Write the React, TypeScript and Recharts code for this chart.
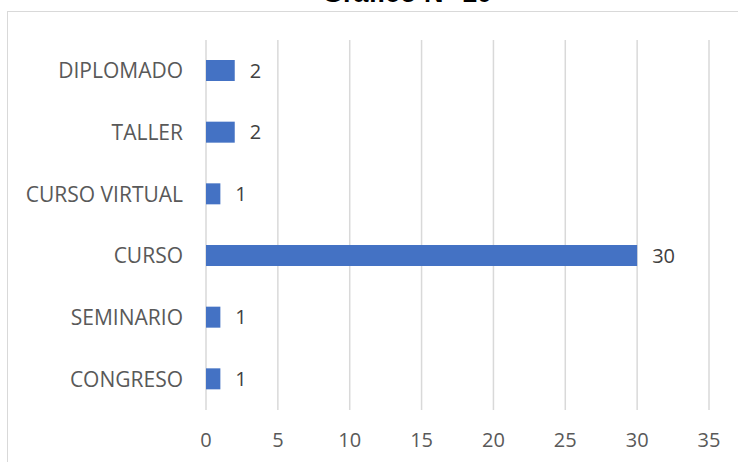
import React from 'react';
import { BarChart, Bar, XAxis, YAxis, CartesianGrid, LabelList } from 'recharts';

const categories = ['DIPLOMADO', 'TALLER', 'CURSO VIRTUAL', 'CURSO', 'SEMINARIO', 'CONGRESO'];
const values = [2, 2, 1, 30, 1, 1];
const xTicks = [0, 5, 10, 15, 20, 25, 30, 35];
const title = 'Gráfico N° 10';

const data = categories.map((c, i) => ({ name: c, value: values[i] }));

const FONT = '"Open Sans", sans-serif';

export default function App() {
  return (
    <div style={{ position: 'absolute', left: 0, top: 0, width: 738, height: 462, overflow: 'hidden', background: '#fff', fontFamily: FONT }}>
      <div style={{ position: 'absolute', left: 7, top: 11, width: 800, height: 600, border: '1px solid #d9d9d9', boxSizing: 'border-box' }} />
      <div style={{ position: 'absolute', left: 38, width: 738, top: -23, textAlign: 'center', fontSize: 27, fontWeight: 700, lineHeight: '32px', color: '#000', fontFamily: '"Liberation Sans", Arial, sans-serif' }}>{title}</div>
      <div style={{ position: 'absolute', left: 0, top: 0 }}>
        <BarChart width={738} height={462} data={data} layout="vertical" margin={{ top: 40, right: 29, bottom: 0, left: 6 }}>
          <CartesianGrid horizontal={false} stroke="#d9d9d9" strokeWidth={1.5} />
          <XAxis type="number" domain={[0, 35]} ticks={xTicks} axisLine={false} tickLine={false} tickSize={0} tickMargin={23} height={52} interval={0}
            tick={{ fill: '#595959', fontSize: 20, fontFamily: FONT }} />
          <YAxis type="category" dataKey="name" width={200} axisLine={false} tickLine={false} tickSize={0} tickMargin={23} interval={0}
            tick={{ fill: '#595959', fontSize: 21, fontFamily: FONT }} />
          <Bar dataKey="value" fill="#4472C4" barSize={21} isAnimationActive={false}>
            <LabelList dataKey="value" position="right" offset={15} fill="#404040" fontSize={20} fontFamily={FONT} />
          </Bar>
        </BarChart>
      </div>
    </div>
  );
}
